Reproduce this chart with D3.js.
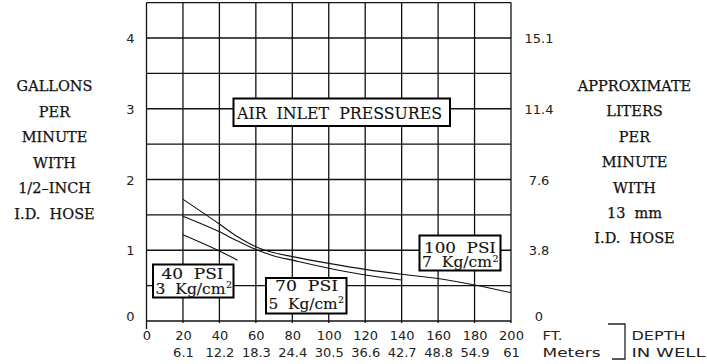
<!DOCTYPE html>
<html>
<head>
<meta charset="utf-8">
<script src="https://cdn.jsdelivr.net/npm/d3@7"></script>
<style>
  html, body { margin: 0; padding: 0; background: #fff; }
  svg { display: block; }
  .serif { font-family: "DejaVu Serif", "Liberation Serif", serif; fill: #111; stroke: #111; stroke-width: 0.25px; }
  .serif.boxed { stroke-width: 0.12px; }
  .tick-lbl { font-family: "DejaVu Sans", "Liberation Sans", sans-serif; fill: #222; }
</style>
</head>
<body>
<svg id="chart" width="707" height="364"></svg>
<script>
// Depth in well (feet) with metric equivalents
const depthFt = [0, 20, 40, 60, 80, 100, 120, 140, 160, 180, 200];
const depthM  = ["", "6.1", "12.2", "18.3", "24.4", "30.5", "36.6", "42.7", "48.8", "54.9", "61"];

// Flow axes: gallons per minute (left) and liters per minute (right)
const gpmTicks = [0, 1, 2, 3, 4];
const lpmLabels = ["0", "3.8", "7.6", "11.4", "15.1"];

// Flow (GPM) versus depth (ft) for each air inlet pressure
const psi100Depth = [20, 40, 50, 60, 70, 80, 100, 120, 140, 160, 180, 200];
const psi100Gpm   = [1.72, 1.37, 1.19, 1.05, 0.965, 0.91, 0.815, 0.73, 0.66, 0.60, 0.51, 0.40];
const psi70Depth  = [20, 40, 50, 60, 70, 80, 100, 120, 140];
const psi70Gpm    = [1.48, 1.26, 1.13, 1.01, 0.92, 0.86, 0.745, 0.65, 0.58];
const psi40Depth  = [20, 40, 50];
const psi40Gpm    = [1.22, 0.99, 0.86];

const leftTitle  = ["GALLONS", "PER", "MINUTE", "WITH", "1/2\u2013INCH", "I.D.  HOSE"];
const rightTitle = ["APPROXIMATE", "LITERS", "PER", "MINUTE", "WITH", "13  mm", "I.D.  HOSE"];

const svg = d3.select("#chart");

const x = d3.scaleLinear().domain([0, 200]).range([146.5, 511]);
const y = d3.scaleLinear().domain([0, 4.5]).range([321, 2.6]);

// Grid
const grid = svg.append("g").attr("stroke", "#111").attr("stroke-width", 1.3);
grid.selectAll("line.v").data(depthFt).join("line")
  .attr("class", "v")
  .attr("x1", d => x(d)).attr("x2", d => x(d))
  .attr("y1", y(4.5)).attr("y2", d => d === 0 ? y(0) + 8 : y(0) + 2);
grid.selectAll("line.h").data(d3.range(0, 4.51, 0.5)).join("line")
  .attr("class", "h")
  .attr("x1", x(0)).attr("x2", x(200))
  .attr("y1", d => y(d)).attr("y2", d => y(d));

// Left axis labels (GPM)
const yLeft = svg.append("g")
  .attr("transform", `translate(${x(0)},0)`)
  .call(d3.axisLeft(y).tickValues(gpmTicks).tickSize(0).tickPadding(12).tickFormat(d3.format("d")));
yLeft.select(".domain").remove();
yLeft.selectAll("text")
  .attr("class", "tick-lbl").attr("font-size", 13)
  .attr("dy", d => d === 0 ? "-0.05em" : "0.35em");

// Right axis labels (LPM)
const yRight = svg.append("g")
  .attr("transform", `translate(${x(200)},0)`)
  .call(d3.axisRight(y).tickValues(gpmTicks).tickSize(0).tickFormat((d, i) => lpmLabels[i]));
yRight.select(".domain").remove();
yRight.selectAll("text")
  .attr("class", "tick-lbl").attr("font-size", 13)
  .attr("text-anchor", "middle").attr("x", 28)
  .attr("dy", d => d === 0 ? "-0.05em" : "0.35em");

// Bottom axis: feet row and meters row
const xFt = svg.append("g")
  .attr("transform", `translate(0,${y(0)})`)
  .call(d3.axisBottom(x).tickValues(depthFt).tickSize(0).tickFormat(d3.format("d")));
xFt.select(".domain").remove();
xFt.selectAll("text").attr("class", "tick-lbl").attr("font-size", 13).attr("y", 18.5).attr("dy", 0);

const xM = svg.append("g")
  .attr("transform", `translate(0,${y(0)})`)
  .call(d3.axisBottom(x).tickValues(depthFt).tickSize(0).tickFormat((d, i) => depthM[i]));
xM.select(".domain").remove();
xM.selectAll("text").attr("class", "tick-lbl").attr("font-size", 13).attr("y", 35.5).attr("dy", 0);

// Units and bracket
function unit(tx, ty, len, s) {
  svg.append("text").attr("class", "tick-lbl").attr("font-size", 13)
    .attr("x", tx).attr("y", ty)
    .attr("textLength", len).attr("lengthAdjust", "spacingAndGlyphs")
    .text(s);
}
unit(542.5, 339.5, 20, "FT.");
unit(542.5, 356.5, 58, "Meters");
svg.append("path")
  .attr("d", "M608,324 H625 V359 H612")
  .attr("fill", "none").attr("stroke", "#222").attr("stroke-width", 1.3);
unit(631.5, 339.5, 54, "DEPTH");
unit(631.5, 356.5, 74, "IN WELL");

// Curves
const line = d3.line().x(d => x(d[0])).y(d => y(d[1])).curve(d3.curveMonotoneX);
const series = [
  d3.zip(psi100Depth, psi100Gpm),
  d3.zip(psi70Depth, psi70Gpm),
  d3.zip(psi40Depth, psi40Gpm)
];
svg.append("g").selectAll("path").data(series).join("path")
  .attr("d", line)
  .attr("fill", "none").attr("stroke", "#111").attr("stroke-width", 1.1);

// Side titles
svg.append("g").selectAll("text").data(leftTitle).join("text")
  .attr("class", "serif").attr("font-size", 14.5)
  .attr("text-anchor", "middle").attr("x", 54.5)
  .attr("y", (d, i) => 91 + i * 25.6)
  .style("white-space", "pre")
  .text(d => d);

svg.append("g").selectAll("text").data(rightTitle).join("text")
  .attr("class", "serif").attr("font-size", 14.5)
  .attr("text-anchor", "middle").attr("x", 634.5)
  .attr("y", (d, i) => 91 + i * 25.4)
  .style("white-space", "pre")
  .text(d => d);

// Boxed labels
function box(x0, y0, w, h) {
  svg.append("rect").attr("x", x0).attr("y", y0).attr("width", w).attr("height", h)
    .attr("fill", "#fff").attr("stroke", "#000").attr("stroke-width", 2);
}

function boxText(tx, ty, len, s, size) {
  svg.append("text").attr("class", "serif boxed").attr("font-size", size)
    .attr("x", tx).attr("y", ty)
    .attr("textLength", len).attr("lengthAdjust", "spacingAndGlyphs")
    .style("white-space", "pre")
    .text(s);
}

box(233.5, 98.5, 216.5, 27.5);
boxText(237, 119, 205, "AIR  INLET  PRESSURES", 16);

function psiBox(b, top, num) {
  box(b.x, b.y, b.w, b.h);
  boxText(b.t1[0], b.t1[1], b.t1[2], top, 14);
  boxText(b.t2[0], b.t2[1], b.t2[2], num + "  Kg/cm", 14);
  svg.append("text").attr("class", "serif boxed").attr("font-size", 9.5)
    .attr("x", b.t2[0] + b.t2[2] + 0.5).attr("y", b.t2[1] - 5.5).text("2");
}

psiBox({ x: 153, y: 264.5, w: 80.5, h: 33, t1: [161.5, 278.8, 62], t2: [155.5, 293.5, 70] }, "40  PSI", "3");
psiBox({ x: 266, y: 278, w: 80.5, h: 35.5, t1: [275, 291, 63], t2: [268.5, 308.5, 69] }, "70  PSI", "5");
psiBox({ x: 419.5, y: 235.5, w: 81, h: 35, t1: [424, 252.5, 72], t2: [422, 267.2, 70] }, "100  PSI", "7");
</script>
</body>
</html>
